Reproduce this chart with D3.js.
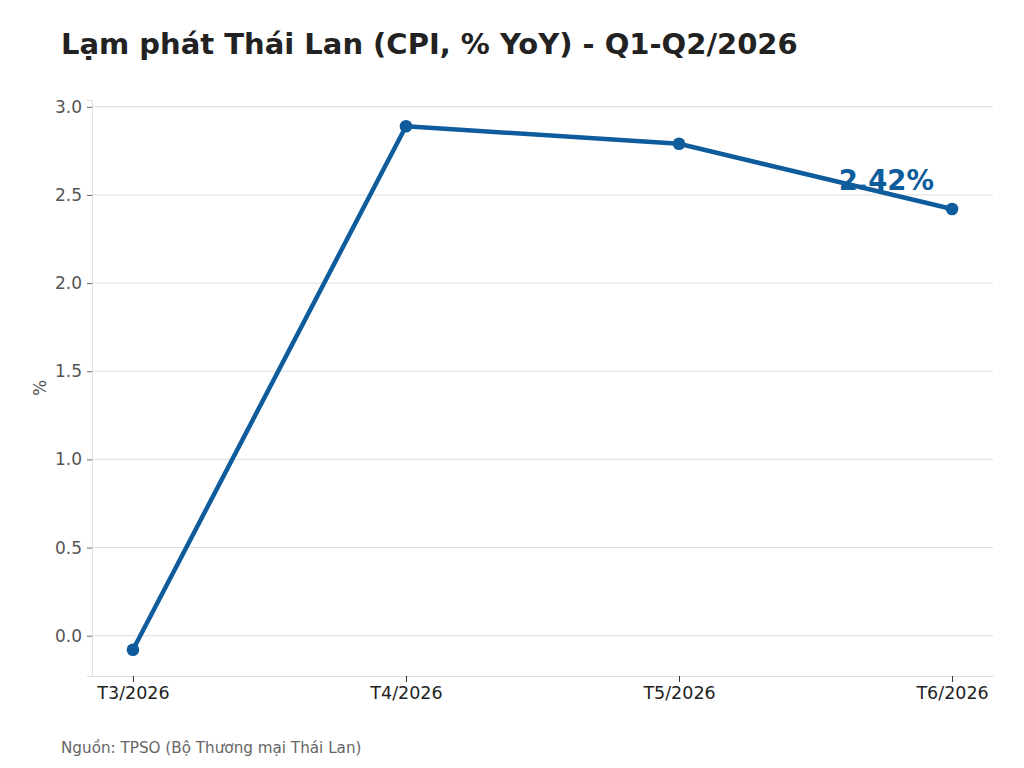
<!DOCTYPE html>
<html lang="vi">
<head>
  <meta charset="utf-8">
  <title>Lạm phát Thái Lan</title>
  <script src="https://d3js.org/d3.v7.min.js"></script>
  <style>
    body { margin: 0; background: #fff; }
    svg { display: block; font-family: "DejaVu Sans", sans-serif; }
  </style>
</head>
<body>
<svg id="chart" width="1024" height="768"></svg>
<script>
// data
var months = ["T3/2026", "T4/2026", "T5/2026", "T6/2026"];
var cpi = [-0.08, 2.89, 2.79, 2.42];
var yTicks = [0.0, 0.5, 1.0, 1.5, 2.0, 2.5, 3.0];

var svg = d3.select("#chart"),
    margin = {top: 100, right: 31, bottom: 92, left: 92},
    width = +svg.attr("width"),
    height = +svg.attr("height");

var blue = "#0e5c9c";

// matplotlib style 5% margins
var yMin = d3.min(cpi), yMax = d3.max(cpi), pad = (yMax - yMin) * 0.05;
var x = d3.scaleLinear()
    .domain([-0.15, months.length - 1 + 0.15])
    .range([margin.left, width - margin.right]);
var y = d3.scaleLinear()
    .domain([yMin - pad, yMax + pad])
    .range([height - margin.bottom, margin.top]);

// grid
svg.append("g")
    .selectAll("line")
    .data(yTicks)
  .enter().append("line")
    .attr("x1", margin.left)
    .attr("x2", width - margin.right)
    .attr("y1", d => y(d))
    .attr("y2", d => y(d))
    .attr("stroke", "#dddddd")
    .attr("stroke-width", 1);

// y axis
var yAxis = svg.append("g")
    .attr("transform", "translate(" + margin.left + ",0)")
    .call(d3.axisLeft(y).tickValues(yTicks).tickFormat(d3.format(".1f")).tickSize(5).tickPadding(5));
yAxis.attr("font-size", null).attr("font-family", null);
yAxis.select(".domain").attr("stroke", "#dddddd");
yAxis.selectAll(".tick line").attr("stroke", "#666");
yAxis.selectAll(".tick text")
    .attr("fill", "#555")
    .style("font-size", "17px");

// x axis
var xAxis = svg.append("g")
    .attr("transform", "translate(0," + (height - margin.bottom) + ")")
    .call(d3.axisBottom(x).tickValues(d3.range(months.length)).tickFormat(i => months[i]).tickSize(6).tickPadding(5).tickSizeOuter(0));
xAxis.attr("font-size", null).attr("font-family", null);
xAxis.select(".domain").attr("stroke", "#dddddd");
xAxis.selectAll(".tick line").attr("stroke", "#333");
xAxis.selectAll(".tick text")
    .attr("fill", "#222")
    .style("font-size", "17.5px");

// y label
svg.append("text")
    .attr("transform", "translate(46," + ((margin.top + height - margin.bottom) / 2) + ") rotate(-90)")
    .attr("text-anchor", "middle")
    .attr("fill", "#555")
    .style("font-size", "17px")
    .text("%");

// line
var line = d3.line()
    .x((d, i) => x(i))
    .y(d => y(d));

svg.append("path")
    .datum(cpi)
    .attr("fill", "none")
    .attr("stroke", blue)
    .attr("stroke-width", 4.5)
    .attr("stroke-linejoin", "round")
    .attr("d", line);

svg.append("g")
    .selectAll("circle")
    .data(cpi)
  .enter().append("circle")
    .attr("cx", (d, i) => x(i))
    .attr("cy", d => y(d))
    .attr("r", 6.3)
    .attr("fill", blue);

// last value label
var last = cpi.length - 1;
svg.append("text")
    .attr("x", x(last) - 18)
    .attr("y", y(cpi[last]) - 19)
    .attr("text-anchor", "end")
    .attr("fill", blue)
    .style("font-size", "27.5px")
    .style("font-weight", "bold")
    .text(cpi[last].toFixed(2) + "%");

// title
svg.append("text")
    .attr("x", 61)
    .attr("y", 54)
    .attr("fill", "#222")
    .style("font-size", "29px")
    .style("font-weight", "bold")
    .text("Lạm phát Thái Lan (CPI, % YoY) - Q1-Q2/2026");

// source
svg.append("text")
    .attr("x", 61)
    .attr("y", 753)
    .attr("fill", "#666")
    .style("font-size", "15.2px")
    .text("Nguồn: TPSO (Bộ Thương mại Thái Lan)");
</script>
</body>
</html>
